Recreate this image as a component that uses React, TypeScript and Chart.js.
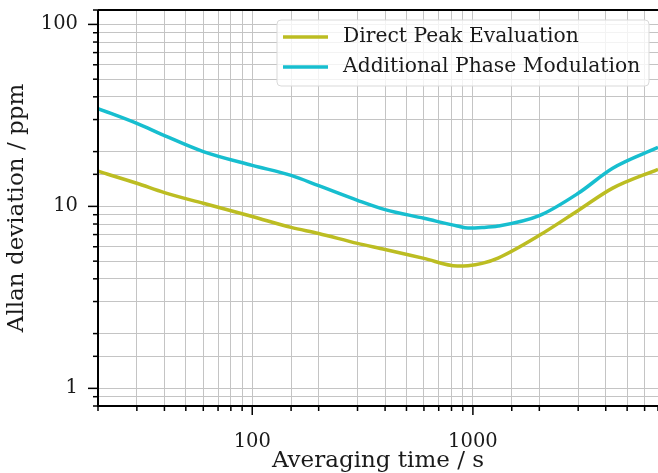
import React, { useEffect, useRef } from "react";
import { Chart, registerables } from "chart.js";

Chart.register(...registerables);

const tau = [20, 30, 40, 60, 100, 150, 200, 300, 400, 600, 850, 950, 1100, 1300, 2000, 3000, 4300, 6900];
const directPeak = [15.6, 13.4, 11.9, 10.4, 8.8, 7.67, 7.1, 6.26, 5.8, 5.18, 4.7, 4.72, 4.86, 5.2, 6.93, 9.5, 12.6, 16.0];
const phaseMod = [34.5, 28.6, 24.5, 20.0, 16.8, 14.8, 13.0, 10.8, 9.6, 8.6, 7.8, 7.6, 7.65, 7.8, 8.9, 11.8, 16.2, 21.1];
const seriesLabels = ["Direct Peak Evaluation", "Additional Phase Modulation"];
const seriesColors = ["#bcbd22", "#17becf"];
const xTickLabels = [100, 1000];
const yTickLabels = [1, 10, 100];

const FONT = "'DejaVu Serif', serif";
const isPow10 = (v: number) => Math.abs(Math.log10(v) - Math.round(Math.log10(v))) < 1e-9;

const decorPlugin = {
  id: "decor",
  afterDraw(chart: any) {
    const { ctx, chartArea, scales } = chart;
    const { left, right, top, bottom } = chartArea;
    ctx.save();
    // tick marks
    ctx.strokeStyle = "#000";
    ctx.lineWidth = 1.5;
    scales.x.ticks.forEach((t: any) => {
      const px = scales.x.getPixelForValue(t.value);
      if (px < left - 0.5 || px > right + 0.5) return;
      const len = isPow10(t.value) ? 9 : 5;
      ctx.beginPath();
      ctx.moveTo(px, bottom);
      ctx.lineTo(px, bottom + len);
      ctx.stroke();
    });
    scales.y.ticks.forEach((t: any) => {
      const py = scales.y.getPixelForValue(t.value);
      if (py < top - 0.5 || py > bottom + 0.5) return;
      const len = isPow10(t.value) ? 10 : 5;
      ctx.beginPath();
      ctx.moveTo(left, py);
      ctx.lineTo(left - len, py);
      ctx.stroke();
    });
    // spines
    ctx.lineWidth = 2;
    ctx.beginPath();
    ctx.moveTo(left, top);
    ctx.lineTo(right, top);
    ctx.moveTo(left, top);
    ctx.lineTo(left, bottom);
    ctx.lineTo(right, bottom);
    ctx.stroke();

    // legend
    const bx = 277, by = 20, bw = 372, bh = 66, r = 4;
    ctx.beginPath();
    ctx.moveTo(bx + r, by);
    ctx.lineTo(bx + bw - r, by);
    ctx.quadraticCurveTo(bx + bw, by, bx + bw, by + r);
    ctx.lineTo(bx + bw, by + bh - r);
    ctx.quadraticCurveTo(bx + bw, by + bh, bx + bw - r, by + bh);
    ctx.lineTo(bx + r, by + bh);
    ctx.quadraticCurveTo(bx, by + bh, bx, by + bh - r);
    ctx.lineTo(bx, by + r);
    ctx.quadraticCurveTo(bx, by, bx + r, by);
    ctx.closePath();
    ctx.fillStyle = "rgba(255,255,255,0.8)";
    ctx.fill();
    ctx.strokeStyle = "#d9d9d9";
    ctx.lineWidth = 1;
    ctx.stroke();
    ctx.font = `20.3px ${FONT}`;
    ctx.textBaseline = "middle";
    ctx.textAlign = "left";
    chart.data.datasets.forEach((ds: any, i: number) => {
      const y = 37 + i * 30;
      ctx.strokeStyle = ds.borderColor;
      ctx.lineWidth = 3.5;
      ctx.beginPath();
      ctx.moveTo(283, y);
      ctx.lineTo(328, y);
      ctx.stroke();
      ctx.fillStyle = "#1a1a1a";
      ctx.fillText(ds.label, 343, y);
    });
    ctx.restore();
  },
};

export default function App() {
  const ref = useRef<HTMLCanvasElement>(null);
  useEffect(() => {
    const canvas = ref.current!;
    const chart = new Chart(canvas, {
      type: "line",
      data: {
        datasets: [0, 1].map((i) => ({
          label: seriesLabels[i],
          data: tau.map((t, j) => ({ x: t, y: (i === 0 ? directPeak : phaseMod)[j] })),
          borderColor: seriesColors[i],
          backgroundColor: seriesColors[i],
          borderWidth: 3.5,
          pointRadius: 0,
          cubicInterpolationMode: "monotone" as const,
          fill: false,
        })),
      },
      options: {
        animation: false,
        responsive: false,
        maintainAspectRatio: false,
        layout: { padding: { top: 10, right: 0, left: 0, bottom: 0 } },
        plugins: { legend: { display: false }, tooltip: { enabled: false } },
        scales: {
          x: {
            type: "logarithmic",
            min: 20,
            max: 6900,
            afterFit: (s: any) => {
              s.height = 67;
              s.paddingLeft = 0;
              s.paddingRight = 0;
              s.paddingTop = 0;
              s.paddingBottom = 0;
            },
            grid: { color: "#c4c4c4", lineWidth: 1, drawTicks: false },
            border: { display: false },
            ticks: {
              autoSkip: false,
              maxRotation: 0,
              padding: 24,
              color: "#1a1a1a",
              font: { family: FONT, size: 19.5 },
              callback: (v: any) => (xTickLabels.includes(Number(v)) ? String(v) : ""),
            },
            title: {
              display: true,
              text: "Averaging time / s",
              color: "#1a1a1a",
              font: { family: FONT, size: 23 },
              padding: { top: 0, bottom: -2 },
            },
          },
          y: {
            type: "logarithmic",
            min: 0.8,
            max: 120,
            afterFit: (s: any) => {
              s.width = 98;
              s.paddingLeft = 0;
              s.paddingRight = 0;
              s.paddingTop = 0;
              s.paddingBottom = 0;
            },
            grid: { color: "#c4c4c4", lineWidth: 1, drawTicks: false },
            border: { display: false },
            ticks: {
              autoSkip: false,
              padding: 20,
              color: "#1a1a1a",
              font: { family: FONT, size: 19.5 },
              callback: (v: any) => (yTickLabels.includes(Number(v)) ? String(v) : ""),
            },
            title: {
              display: true,
              text: "Allan deviation / ppm",
              color: "#1a1a1a",
              font: { family: FONT, size: 23 },
              padding: { top: 3, bottom: 0 },
            },
          },
        },
      },
      plugins: [decorPlugin],
    });
    return () => chart.destroy();
  }, []);
  return (
    <div style={{ position: "absolute", left: 0, top: 0, width: 658, height: 473, background: "#fff" }}>
      <canvas ref={ref} width={658} height={473} style={{ display: "block" }} />
    </div>
  );
}
